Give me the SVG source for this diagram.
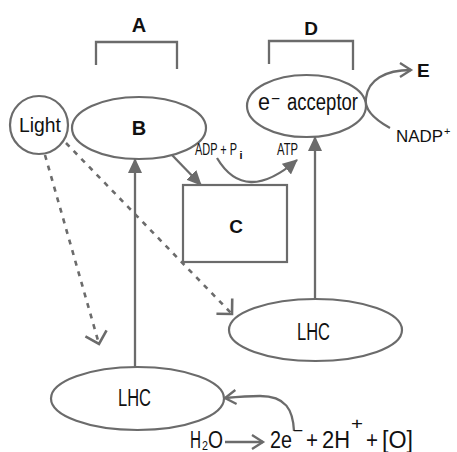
<svg xmlns="http://www.w3.org/2000/svg" width="457" height="452" viewBox="0 0 457 452">
<style>
.ln{fill:none;stroke:#6b6b6b;stroke-width:2.3}
.dash{fill:none;stroke:#6b6b6b;stroke-width:2.6;stroke-dasharray:5 6}
.shape{fill:#fff;stroke:#6b6b6b;stroke-width:2.2}
text{font-family:"Liberation Sans",Arial,sans-serif;fill:#111}
.b{font-weight:bold}
</style>
<defs>
<marker id="fill" markerUnits="userSpaceOnUse" viewBox="0 0 15 14" markerWidth="15" markerHeight="14" refX="14" refY="7" orient="auto">
<path d="M0,0 L15,7 L0,14 z" fill="#6b6b6b"/>
</marker>
<marker id="open" markerUnits="userSpaceOnUse" viewBox="-2 -2 16 18" markerWidth="16" markerHeight="18" refX="11" refY="7" orient="auto">
<path d="M0,0 L11,7 L0,14" fill="none" stroke="#6b6b6b" stroke-width="2.3"/>
</marker>
<marker id="chev" markerUnits="userSpaceOnUse" viewBox="-2 -2 16 26" markerWidth="16" markerHeight="26" refX="11" refY="11" orient="auto">
<path d="M0,0 L11,11 L0,22" fill="none" stroke="#6b6b6b" stroke-width="2.6"/>
</marker>
</defs>

<g id="bracketA">
<path class="ln" d="M96,65 V42 H177 V69"/>
<text class="b" x="139" y="32" font-size="20" text-anchor="middle">A</text>
</g>
<g id="bracketD">
<path class="ln" d="M269,64 V41 H353 V70"/>
<text class="b" x="311" y="35" font-size="19" text-anchor="middle">D</text>
</g>

<g id="connectors">
<path class="dash" d="M45,155 L99,344" marker-end="url(#chev)"/>
<path class="dash" d="M66,143 L232,314" marker-end="url(#chev)"/>
<path class="ln" d="M172,155 L201,185" marker-end="url(#fill)"/>
<path class="ln" d="M217,158 Q245,205 297,160" marker-end="url(#fill)"/>
<path class="ln" d="M135,367 V159" marker-end="url(#fill)"/>
<path class="ln" d="M315,299 V137" marker-end="url(#fill)"/>
<path class="ln" d="M390,128 C372,118 364,108 366,98 C368,80 385,70 411,70" marker-end="url(#open)"/>
<path class="ln" d="M294,431 C293,410 286,396 260,396 C248,396 236,397 225,398" marker-end="url(#open)"/>
<path class="ln" d="M225,442 H263" marker-end="url(#open)"/>
</g>

<g id="light">
<circle class="shape" cx="39" cy="125" r="29"/>
<text x="19" y="132" font-size="21" textLength="42" lengthAdjust="spacingAndGlyphs">Light</text>
</g>
<g id="B">
<ellipse class="shape" cx="139" cy="128" rx="67" ry="31"/>
<text class="b" x="139" y="135" font-size="20" text-anchor="middle">B</text>
</g>
<g id="C">
<rect class="shape" x="183" y="185" width="104" height="77"/>
<text class="b" x="236" y="233" font-size="19" text-anchor="middle">C</text>
</g>
<g id="eacceptor">
<ellipse class="shape" cx="306.5" cy="106" rx="59.5" ry="31"/>
<text x="258" y="110" font-size="23" textLength="12" lengthAdjust="spacingAndGlyphs">e</text>
<text x="271" y="104" font-size="16" textLength="9" lengthAdjust="spacingAndGlyphs">−</text>
<text x="287" y="110" font-size="23" textLength="71" lengthAdjust="spacingAndGlyphs">acceptor</text>
</g>
<g id="LHC1">
<ellipse class="shape" cx="315.5" cy="330" rx="86.5" ry="31"/>
<text x="297" y="340" font-size="23" textLength="33" lengthAdjust="spacingAndGlyphs">LHC</text>
</g>
<g id="LHC2">
<ellipse class="shape" cx="137.5" cy="398.5" rx="86.5" ry="31.5"/>
<text x="118" y="406" font-size="23" textLength="33" lengthAdjust="spacingAndGlyphs">LHC</text>
</g>

<g id="labels">
<text x="195" y="155" font-size="16" textLength="42" lengthAdjust="spacingAndGlyphs">ADP + P</text>
<text x="239" y="159" font-size="10" textLength="4" lengthAdjust="spacingAndGlyphs">i</text>
<text x="277" y="155" font-size="16" textLength="21" lengthAdjust="spacingAndGlyphs">ATP</text>
<text class="b" x="417" y="77" font-size="19">E</text>
<text x="396" y="142" font-size="17" textLength="47" lengthAdjust="spacingAndGlyphs">NADP</text>
<text x="444" y="135" font-size="11">+</text>
</g>

<g id="equation">
<text x="190" y="448" font-size="23" textLength="11" lengthAdjust="spacingAndGlyphs">H</text>
<text x="202" y="450" font-size="12" textLength="6" lengthAdjust="spacingAndGlyphs">2</text>
<text x="208" y="448" font-size="23" textLength="15" lengthAdjust="spacingAndGlyphs">O</text>
<text x="270" y="448" font-size="23" textLength="22" lengthAdjust="spacingAndGlyphs">2e</text>
<text x="293" y="436" font-size="16" textLength="10" lengthAdjust="spacingAndGlyphs">−</text>
<text x="306" y="448" font-size="23" textLength="12" lengthAdjust="spacingAndGlyphs">+</text>
<text x="322" y="448" font-size="23" textLength="28" lengthAdjust="spacingAndGlyphs">2H</text>
<text x="351" y="429" font-size="17" textLength="12" lengthAdjust="spacingAndGlyphs">+</text>
<text x="366" y="448" font-size="23" textLength="12" lengthAdjust="spacingAndGlyphs">+</text>
<text x="382" y="448" font-size="23" textLength="31" lengthAdjust="spacingAndGlyphs">[O]</text>
</g>
</svg>
